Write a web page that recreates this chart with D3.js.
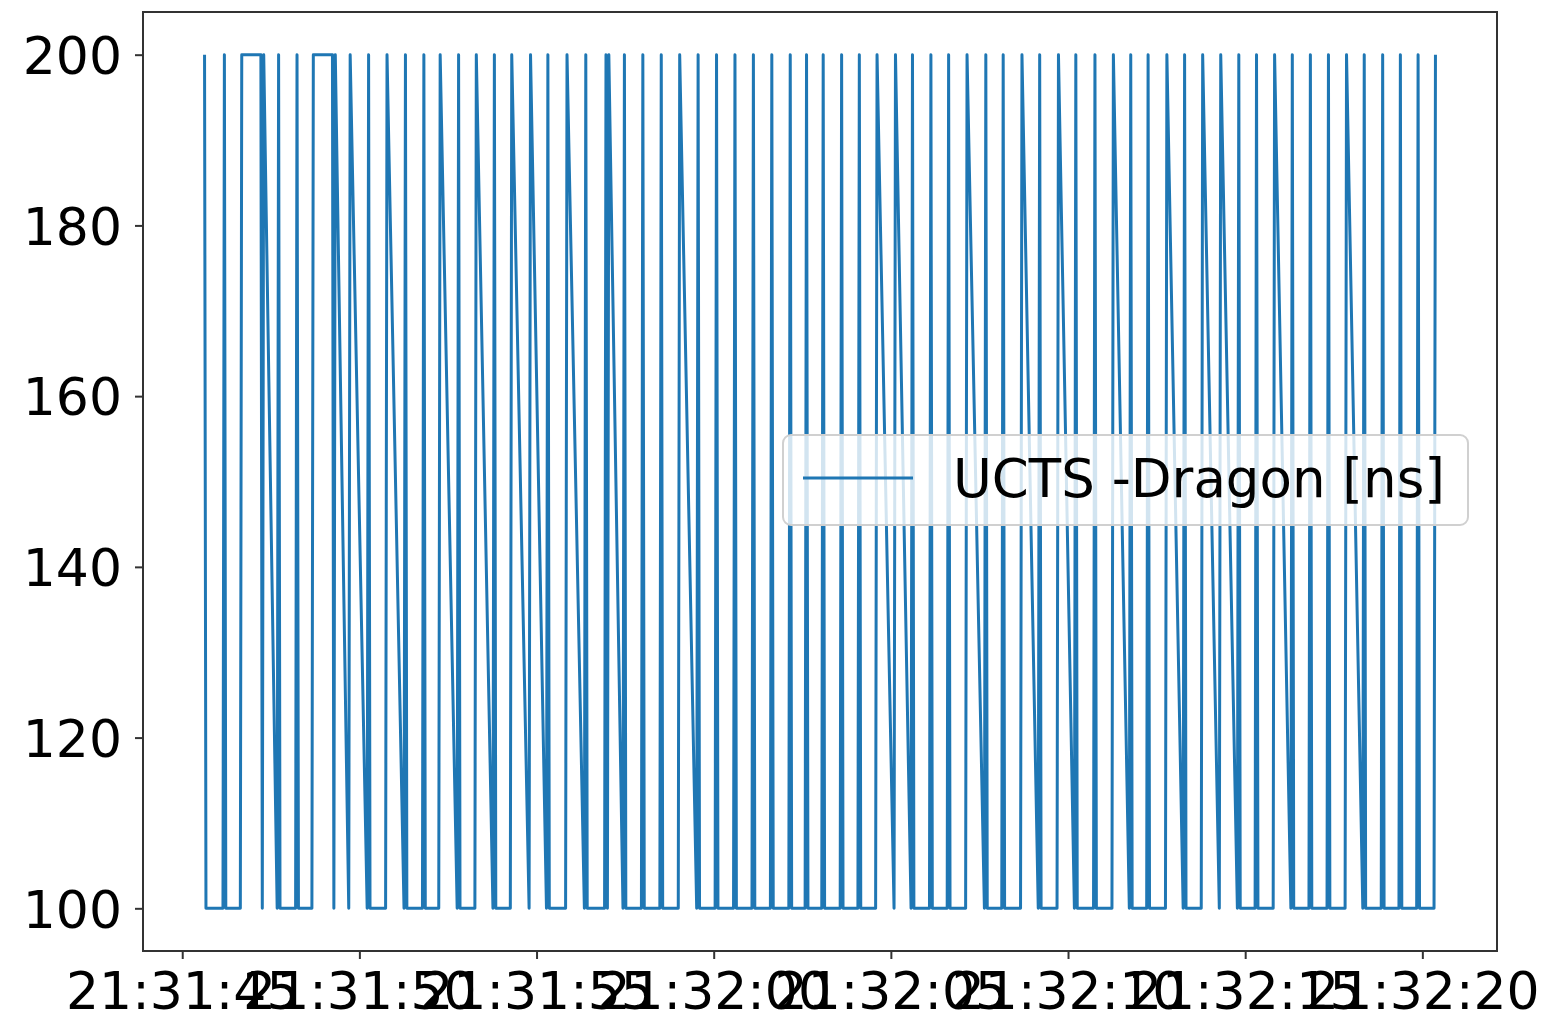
<!DOCTYPE html>
<html>
<head>
<meta charset="utf-8">
<script src="https://cdn.jsdelivr.net/npm/d3@7"></script>
<style>
  html, body { margin: 0; padding: 0; background: #ffffff; }
  svg { display: block; }
  text { font-family: "DejaVu Sans", sans-serif; }
</style>
</head>
<body>
<svg id="chart" width="1549" height="1019"></svg>
<script>
// ---- Data (seconds after 21:31:00, grouped per burst of samples) ----
const burstTimes = [
  [45.63,45.67],[46.15,46.19,46.23],[46.64,46.68],[47.22,47.26,47.30],
  [47.68,47.72,47.76],[48.20,48.24,48.28],[48.66,48.70],[49.24,49.28,49.32],
  [49.70,49.74],[50.22,50.26,50.30],[50.74,50.78],[51.26,51.30,51.34],
  [51.78,51.82,51.86],[52.24,52.28],[52.76,52.80,52.84],[53.26,53.30],
  [53.77,53.81,53.85],[54.26,54.30],[54.79,54.83],[55.28,55.32,55.36],
  [55.82,55.86],[56.35,56.39,56.43],[56.92,56.96,57.00,57.04],[57.44,57.48,57.52],
  [57.96,58.00,58.04],[58.48,58.52,58.56],[59.00,59.04],[59.52,59.56,59.60],
  [60.04,60.08,60.12],[60.56,60.60,60.64],[61.08,61.12,61.16],[61.60,61.64,61.68],
  [62.12,62.16,62.20],[62.58,62.62,62.66],[63.05,63.09,63.13],[63.57,63.61,63.65],
  [64.07,64.11,64.15],[64.57,64.61],[65.09,65.13],[65.57,65.61,65.65],
  [66.09,66.13,66.17],[66.59,66.63,66.67],[67.11,67.15],[67.64,67.68,67.72],
  [68.13,68.17,68.21],[68.66,68.70],[69.16,69.20,69.24],[69.69,69.73],
  [70.18,70.22,70.26],[70.72,70.76,70.80],[71.24,71.28],[71.73,71.77,71.81],
  [72.22,72.26,72.30],[72.75,72.79],[73.25,73.29,73.33],[73.76,73.80],
  [74.27,74.31],[74.78,74.82,74.86],[75.28,75.32,75.36],[75.79,75.83],
  [76.29,76.33,76.37],[76.80,76.84,76.88],[77.31,77.35,77.39],[77.82,77.86],
  [78.32,78.36,78.40],[78.84,78.88,78.92],[79.34,79.38,79.42],[79.84,79.88,79.92],
  [80.33,80.37]
];
const burstValues = [
  [200,100],[100,200,100],[100,200],[200,100,200],
  [100,200,100],[100,200,100],[100,200],[200,100,200],
  [100,200],[100,200,100],[100,200],[100,200,100],
  [100,200,100],[100,200],[100,200,100],[100,200],
  [100,200,100],[100,200],[100,200],[100,200,100],
  [100,200],[100,200,100],[100,200,100,200],[100,200,100],
  [100,200,100],[100,200,100],[100,200],[100,200,100],
  [100,200,100],[100,200,100],[100,200,100],[100,200,100],
  [100,200,100],[100,200,100],[100,200,100],[100,200,100],
  [100,200,100],[100,200],[100,200],[100,200,100],
  [100,200,100],[100,200,100],[100,200],[100,200,100],
  [100,200,100],[100,200],[100,200,100],[100,200],
  [100,200,100],[100,200,100],[100,200],[100,200,100],
  [100,200,100],[100,200],[100,200,100],[100,200],
  [100,200],[100,200,100],[100,200,100],[100,200],
  [100,200,100],[100,200,100],[100,200,100],[100,200],
  [100,200,100],[100,200,100],[100,200,100],[100,200,100],
  [100,200]
];
const yTickValues = [100, 120, 140, 160, 180, 200];
const xTickSeconds = [45, 50, 55, 60, 65, 70, 75, 80];
const legendLabel = "UCTS -Dragon [ns]";

// ---- Build points ----
const base = new Date(2000, 0, 1, 21, 31, 0);
const toDate = s => new Date(base.getTime() + s * 1000);
const points = [];
burstTimes.forEach((ts, i) => ts.forEach((t, j) => points.push({ t: toDate(t), v: burstValues[i][j] })));

// ---- Layout ----
const plot = { left: 143, right: 1497, top: 12, bottom: 951 };
const svg = d3.select("#chart");
const color = "#1f77b4";

const tExt = d3.extent(points, d => d.t.getTime());
const tPad = (tExt[1] - tExt[0]) * 0.05;
const x = d3.scaleTime()
  .domain([new Date(tExt[0] - tPad), new Date(tExt[1] + tPad)])
  .range([plot.left, plot.right]);
const vExt = d3.extent(points, d => d.v);
const vPad = (vExt[1] - vExt[0]) * 0.05;
const y = d3.scaleLinear()
  .domain([vExt[0] - vPad, vExt[1] + vPad])
  .range([plot.bottom, plot.top]);

// clip
svg.append("defs").append("clipPath").attr("id", "clip")
  .append("rect").attr("x", plot.left).attr("y", plot.top)
  .attr("width", plot.right - plot.left).attr("height", plot.bottom - plot.top);

// line
const line = d3.line().x(d => x(d.t)).y(d => y(d.v));
svg.append("path")
  .datum(points)
  .attr("clip-path", "url(#clip)")
  .attr("fill", "none")
  .attr("stroke", color)
  .attr("stroke-width", 3)
  .attr("stroke-linejoin", "round")
  .attr("d", line);

// spines
svg.append("rect")
  .attr("x", plot.left).attr("y", plot.top)
  .attr("width", plot.right - plot.left).attr("height", plot.bottom - plot.top)
  .attr("fill", "none").attr("stroke", "#333").attr("stroke-width", 2);

// x axis
const xAxis = d3.axisBottom(x)
  .tickValues(xTickSeconds.map(toDate))
  .tickFormat(d3.timeFormat("%H:%M:%S"))
  .tickSizeInner(8).tickSizeOuter(0).tickPadding(12);
const gx = svg.append("g").attr("transform", `translate(0,${plot.bottom})`).call(xAxis);
gx.select(".domain").remove();
gx.selectAll(".tick line").attr("stroke", "#333").attr("stroke-width", 2);
gx.selectAll(".tick text")
  .attr("font-size", 52).attr("fill", "#000")
  .attr("font-family", "DejaVu Sans")
  .attr("dy", null).attr("y", 58);

// y axis
const yAxis = d3.axisLeft(y)
  .tickValues(yTickValues)
  .tickFormat(d3.format("d"))
  .tickSizeInner(8).tickSizeOuter(0).tickPadding(12);
const gy = svg.append("g").attr("transform", `translate(${plot.left},0)`).call(yAxis);
gy.select(".domain").remove();
gy.selectAll(".tick line").attr("stroke", "#333").attr("stroke-width", 2);
gy.selectAll(".tick text")
  .attr("font-size", 52).attr("fill", "#000")
  .attr("font-family", "DejaVu Sans")
  .attr("x", -21).attr("dy", "0.36em");

// legend
const lg = svg.append("g");
lg.append("rect")
  .attr("x", 783).attr("y", 435).attr("width", 685).attr("height", 90)
  .attr("rx", 8).attr("ry", 8)
  .attr("fill", "#ffffff").attr("fill-opacity", 0.8)
  .attr("stroke", "#d0d0d0").attr("stroke-width", 2);
lg.append("line")
  .attr("x1", 803).attr("x2", 913).attr("y1", 478).attr("y2", 478)
  .attr("stroke", color).attr("stroke-width", 3);
lg.append("text")
  .attr("x", 953).attr("y", 497)
  .attr("font-size", 53).attr("fill", "#000")
  .text(legendLabel);
</script>
</body>
</html>
